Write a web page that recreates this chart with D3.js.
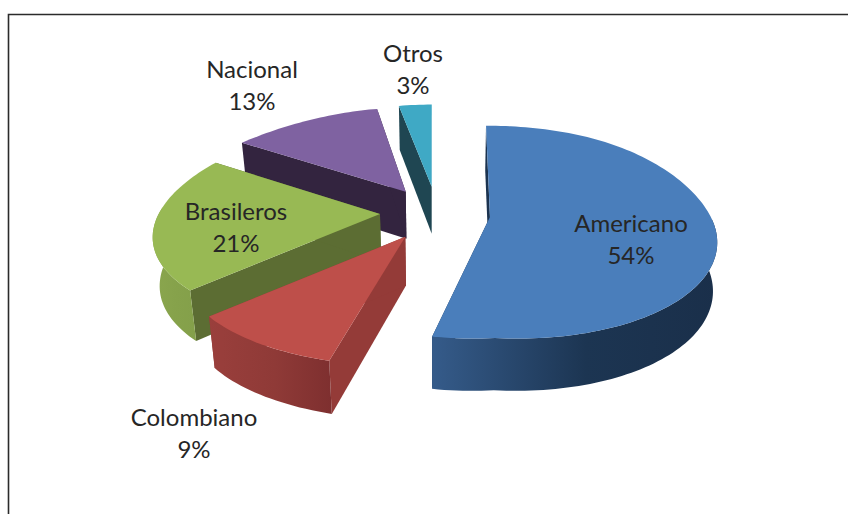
<!DOCTYPE html>
<html><head><meta charset="utf-8">
<script src="https://cdnjs.cloudflare.com/ajax/libs/d3/7.8.5/d3.min.js"></script>
<style>html,body{margin:0;padding:0;background:#fff}svg{display:block}</style>
</head><body>
<svg id="c" width="848" height="514"></svg>
<script>
// data
const categories = ["Americano","Colombiano","Brasileros","Nacional","Otros"];
const shares = [54,9,21,13,3];
const shareLabels = ["54%","9%","21%","13%","3%"];

// colours
const topColors  = ["#4a7ebb","#be4f4a","#98b954","#7f62a1","#3fa9c5"];
const cutColors  = ["#1b3350","#943b38","#5c6d33","#33243f","#1f4652"];
const rimStops   = [["#355b8a","#1c3552","#1a2f4a"],["#9a3f3c","#8f3a37","#7e2f2f"],["#8aa64e","#86a24b","#84a04a"],["#33243f","#33243f","#33243f"],["#1f4652","#1f4652","#1f4652"]];

// layout of the 3D projection
const cx = 432, cy = 218, k = 0.457, p = 0.078, R0 = 230, Z = 48;
const baseShrink = [0.985,0.975,0.975,0.975,0.975];
const explodeX = [58,-26.3,-52.2,-26.8,-0.3];
const explodeY = [-2.2,40.6,-8.8,-58.7,-70];
const radiusX  = [223,203,222,244,191];
const radiusY  = [229,197,225,230,201];
const tiltX = [0.046,0.33,0.14,0.285,0];
const tiltY = [0.063,0.277,0.05,0.112,0];
const rimSag = [22,0,0,0,0];
const labelX = [631,194,236,252,413];
const labelY = [232,426,220,78,62];
const paintOrder = [4,3,2,1,0];

const svg = d3.select("#c");
const defs = svg.append("defs");
const line = d3.line().x(d=>d[0]).y(d=>d[1]);

function project(i,X,Y,depth){
  const w = 1/(1-p*Y/R0);
  const s = depth ? baseShrink[i] : 1;
  return [cx+X*w*s, cy+(k*Y+(depth?Z:0))*w];
}
function rimPoint(i,a,depth){
  const c = Math.cos(a), s = Math.sin(a);
  const sag = rimSag[i]*(c<0 ? Math.abs(s) : Math.pow(s,4));
  return project(i,
    explodeX[i]+radiusX[i]*(1-tiltX[i]*c)*s,
    explodeY[i]-radiusY[i]*(1-tiltY[i]*c)*c+sag,
    depth);
}
const apex = (i,depth)=>project(i,explodeX[i],explodeY[i],depth);

const arcs = d3.pie().sort(null).startAngle(0).endAngle(2*Math.PI)(shares);

// frame (top and left rules only)
svg.append("path").attr("d","M8.5,514V14.5H848").attr("fill","none").attr("stroke","#2b2b2b").attr("stroke-width",1.6);

paintOrder.forEach(i=>{
  const a0 = arcs[i].startAngle, a1 = arcs[i].endAngle;
  const n = Math.max(6,Math.ceil((a1-a0)*40));
  const angles = d3.range(n+1).map(j=>a0+(a1-a0)*j/n);
  const g = svg.append("g");

  // radial cut faces
  [a0,a1].forEach(a=>{
    g.append("path").attr("fill",cutColors[i])
     .attr("d",line([apex(i,false),rimPoint(i,a,false),rimPoint(i,a,true),apex(i,true)])+"Z");
  });

  // outer rim wall
  const id = "rim"+i;
  const grad = defs.append("linearGradient").attr("id",id).attr("x1",0).attr("x2",1).attr("y1",0).attr("y2",0);
  rimStops[i].forEach((c,j)=>grad.append("stop").attr("offset",[0,0.54,1][j]).attr("stop-color",c));
  const front = angles.filter(a=>Math.cos(a)<0.08);
  if(front.length>1){
    g.append("path").attr("fill",`url(#${id})`)
     .attr("d",line(front.map(a=>rimPoint(i,a,false)).concat(front.slice().reverse().map(a=>rimPoint(i,a,true))))+"Z");
  }

  // top surface
  g.append("path").attr("fill",topColors[i])
   .attr("d",line([apex(i,false)].concat(angles.map(a=>rimPoint(i,a,false))))+"Z");
});

// labels
categories.forEach((c,i)=>{
  const t = svg.append("text").attr("text-anchor","middle").attr("font-family","Lato, 'Open Sans', sans-serif")
    .attr("font-size",24).attr("fill","#262626").attr("x",labelX[i]).attr("y",labelY[i]);
  t.append("tspan").attr("x",labelX[i]).text(c);
  t.append("tspan").attr("x",labelX[i]).attr("dy",31.5).text(shareLabels[i]);
});
</script>
</body></html>
